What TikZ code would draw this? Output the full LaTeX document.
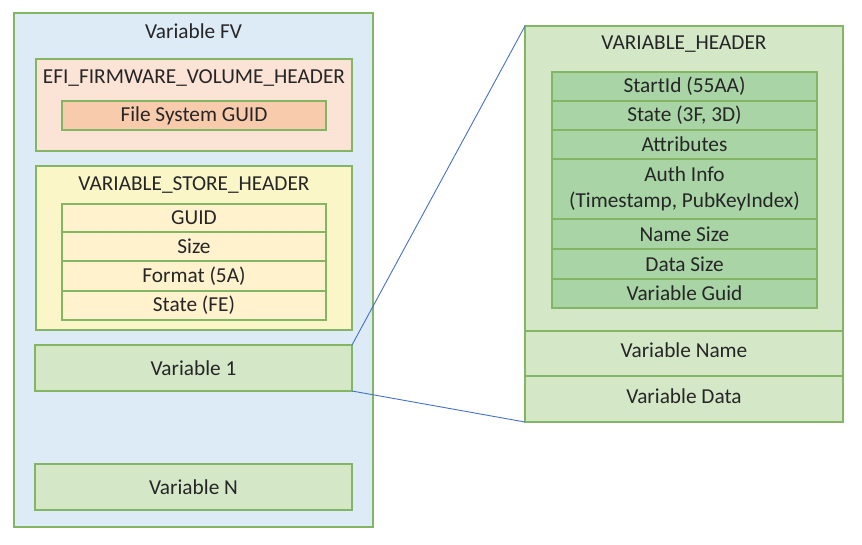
\documentclass[tikz,border=0pt]{standalone}
\usepackage{fontspec}
\setmainfont{Carlito}
\definecolor{bgreen}{RGB}{132,181,100}
\definecolor{fvfill}{RGB}{221,235,247}
\definecolor{efifill}{RGB}{251,227,214}
\definecolor{guidfill}{RGB}{248,203,173}
\definecolor{vshfill}{RGB}{250,246,200}
\definecolor{rowfill}{RGB}{255,242,204}
\definecolor{varfill}{RGB}{212,232,200}
\definecolor{innerfill}{RGB}{168,212,166}
\definecolor{txt}{RGB}{38,38,38}
\definecolor{linkblue}{RGB}{68,114,196}
\begin{document}
\begin{tikzpicture}[x=1pt,y=-1pt,
  box/.style={draw=bgreen,line width=1.4pt,inner sep=0pt,outer sep=0pt,
    font=\fontsize{21.3}{26}\selectfont,text=txt,align=center},
  ttl/.style={inner sep=0pt,font=\fontsize{21.3}{26}\selectfont,text=txt},
  link/.style={draw=linkblue,line width=0.9pt}]
\useasboundingbox (0,0) rectangle (862,544);
% left column
\node[box,fill=fvfill,minimum width=359pt,minimum height=514pt] (fv) at (193.5,270) {};
\node[ttl] (fvt) at (193.5,31) {Variable FV};
\node[box,fill=efifill,minimum width=316pt,minimum height=92pt] (efi) at (194,105) {};
\node[ttl] (efit) at (194,78) {EFI\_FIRMWARE\_VOLUME\_HEADER};
\node[box,fill=guidfill,minimum width=264pt,minimum height=29pt] (fsg) at (194,115.5) {File System GUID};
\node[box,fill=vshfill,minimum width=316pt,minimum height=164pt] (vsh) at (194,248) {};
\node[ttl] (vsht) at (194,185) {VARIABLE\_STORE\_HEADER};
\node[box,fill=rowfill,minimum width=264pt,minimum height=28pt] (r1) at (194,218) {GUID};
\node[box,fill=rowfill,minimum width=264pt,minimum height=29pt] (r2) at (194,246.5) {Size};
\node[box,fill=rowfill,minimum width=264pt,minimum height=30pt] (r3) at (194,276) {Format (5A)};
\node[box,fill=rowfill,minimum width=264pt,minimum height=29pt] (r4) at (194,305.5) {State (FE)};
\node[box,fill=varfill,minimum width=317pt,minimum height=46pt] (var1) at (193.5,368) {Variable 1};
\node[box,fill=varfill,minimum width=317pt,minimum height=46pt] (varn) at (193.5,487) {Variable N};
% right column
\node[box,fill=varfill,minimum width=318pt,minimum height=305pt] (vh) at (684,178.5) {};
\node[ttl] (vht) at (684,44) {VARIABLE\_HEADER};
\node[box,fill=varfill,minimum width=318pt,minimum height=45pt] (vname) at (684,353.5) {};
\node[ttl] (vnamet) at (684,350) {Variable Name};
\node[box,fill=varfill,minimum width=318pt,minimum height=46pt] (vdata) at (684,399) {};
\node[ttl] (vdatat) at (684,396) {Variable Data};
\node[box,fill=innerfill,minimum width=265pt,minimum height=29pt] (h1) at (684.5,86.5) {StartId (55AA)};
\node[box,fill=innerfill,minimum width=265pt,minimum height=29pt] (h2) at (684.5,115.5) {State (3F, 3D)};
\node[box,fill=innerfill,minimum width=265pt,minimum height=29pt] (h3) at (684.5,144.5) {Attributes};
\node[box,fill=innerfill,minimum width=265pt,minimum height=60pt] (h4) at (684.5,189) {Auth Info\\(Timestamp, PubKeyIndex)};
\node[box,fill=innerfill,minimum width=265pt,minimum height=30pt] (h5) at (684.5,234) {Name Size};
\node[box,fill=innerfill,minimum width=265pt,minimum height=30pt] (h6) at (684.5,264) {Data Size};
\node[box,fill=innerfill,minimum width=265pt,minimum height=29pt] (h7) at (684.5,293.5) {Variable Guid};
% connectors
\draw[link] (var1.north east) -- (vh.north west);
\draw[link] (var1.south east) -- (vdata.south west);
\end{tikzpicture}
\end{document}
